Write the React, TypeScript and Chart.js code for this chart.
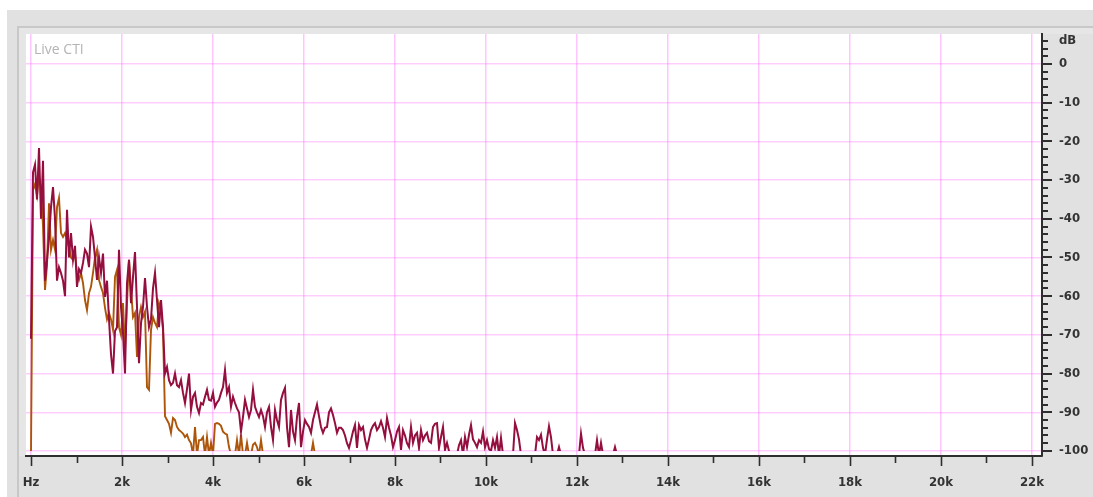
import React, { useEffect, useRef } from "react";
import { Chart, registerables } from "chart.js";

Chart.register(...registerables);

// Spectrum bin width (Hz between successive readings)
const BIN_HZ = 43.956;

// Crimson trace, dB per bin starting at 0 Hz
const CRIMSON_DB = [
  -71, -28, -26, -35, -21.7, -40, -25, -56, -50.6, -45,
  -37, -31.8, -40, -56, -52.5, -54, -56, -60, -37.7, -50,
  -43.7, -50.6, -47, -57.6, -53, -54, -51.4, -48, -49, -52.5,
  -42, -44.7, -50, -55.8, -50, -54, -49, -60.2, -56, -66,
  -75, -80, -69, -68, -48, -62.8, -69.5, -80, -56.6, -50.6,
  -61.8, -55, -48.6, -62.8, -77.3, -67, -62.8, -55.3, -62.8, -68,
  -66, -58, -54, -61, -68, -61, -68, -80, -78.3, -81.7,
  -83, -82.4, -80, -83, -83.5, -81.7, -85, -87.6, -84, -80,
  -89.4, -86, -85, -88.6, -90.2, -87.6, -88, -86, -84.2, -86.8,
  -87, -85, -88.6, -87.5, -86.8, -85, -83.5, -79.1, -85, -83.5,
  -88.6, -86, -87.6, -89, -90, -95, -91.2, -86.8, -89, -91.2,
  -89.4, -84.2, -88.6, -90, -91.2, -89.4, -91, -93.8, -90, -88.6,
  -93.8, -97.2, -89.4, -92, -93.8, -86.8, -85, -83.7, -93.8, -99,
  -89.4, -95, -97.2, -91.2, -87.6, -99, -95, -92, -93, -93.8,
  -95.3, -92, -90, -88, -91, -93.8, -95.3, -94, -93.8, -90,
  -89, -90.7, -92.8, -95.3, -94, -94, -94.6, -96, -98, -99.2,
  -97.2, -95, -93.3, -99.2, -93.3, -94.6, -93.8, -97, -99.2, -97,
  -94.6, -93.5, -92.8, -94.6, -93.8, -92.3, -94, -96.4, -91.5, -94,
  -96, -99, -97.2, -95, -93.8, -99.7, -94.6, -96, -98, -99,
  -93.8, -97.9, -96, -95.3, -99.2, -94.6, -97.2, -96, -95.3, -97.5,
  -97.9, -93.8, -93, -92.8, -99.2, -96.4, -93.8, -99.7, -97.9, -100,
  -101, -101, -101, -101, -98.5, -97.2, -101, -96.4, -99, -95.8,
  -93.3, -97, -97.9, -99, -97.2, -97.9, -95, -99, -97.2, -99.5,
  -100, -97.2, -99.2, -96.4, -101, -96.6, -101, -101, -101, -101,
  -101, -101, -92.8, -94.6, -97, -101, -101, -101, -101, -101,
  -101, -101, -101, -96.4, -97.2, -95.8, -99.2, -101, -97, -93.6,
  -96.4, -101, -101, -101, -99, -101, -101, -101, -101, -101,
  -101, -101, -101, -101, -101, -95.5, -99.2, -101, -101, -101,
  -101, -101, -101, -97.2, -101, -97.9, -101, -101, -101, -101,
  -101, -101, -99, -101,
];

// Orange trace, dB per bin starting at 0 Hz
const ORANGE_DB = [
  -100, -32.6, -31, -34, -29.2, -31.8, -42, -58.4, -52, -36,
  -48, -45.5, -48, -37, -34.6, -43.7, -44.7, -43.7, -45.5, -47.3,
  -50, -50.6, -49, -54, -55.8, -54, -56.6, -61, -63.6, -59.2,
  -57.6, -54, -50, -48, -55.8, -57.6, -59.2, -63, -66, -64.3,
  -66, -68.7, -55, -53.2, -68, -70, -61.8, -73.9, -61.8, -50.6,
  -58, -65.4, -64.3, -75.7, -65.4, -62.8, -65.4, -64, -83.5, -84.2,
  -68.7, -65.4, -66.9, -68, -61.8, -63.6, -68.7, -91, -92, -93,
  -95.3, -91.5, -92, -93.8, -94.6, -95, -95.5, -96.4, -95.8, -97.2,
  -98, -101, -93.8, -101, -97.2, -97.2, -96.4, -101, -96.4, -101,
  -97.9, -101, -93, -92.8, -93, -93.5, -95, -95.5, -95.8, -99,
  -101, -101, -101, -97.2, -101, -95.8, -101, -101, -97.9, -101,
  -101, -98.4, -97.9, -99, -101, -97.2, -101, -101, -101, -101,
  -101, -101, -101, -101, -101, -101, -101, -101, -101, -101,
  -101, -101, -101, -101, -101, -101, -101, -101, -101, -101,
  -101, -97.9, -101,
];

const X_TICKS_HZ = [
  0, 1000, 2000, 3000, 4000, 5000, 6000, 7000, 8000, 9000, 10000, 11000,
  12000, 13000, 14000, 15000, 16000, 17000, 18000, 19000, 20000, 21000, 22000,
];
const X_TICK_LABELS = [
  "Hz", "", "2k", "", "4k", "", "6k", "", "8k", "", "10k", "",
  "12k", "", "14k", "", "16k", "", "18k", "", "20k", "", "22k",
];
const Y_TICKS_DB = [
  -100, -98, -96, -94, -92, -90, -88, -86, -84, -82, -80, -78, -76, -74,
  -72, -70, -68, -66, -64, -62, -60, -58, -56, -54, -52, -50, -48, -46,
  -44, -42, -40, -38, -36, -34, -32, -30, -28, -26, -24, -22, -20, -18,
  -16, -14, -12, -10, -8, -6, -4, -2, 0, 2, 4, 6,
];
const Y_TICK_LABELS = Y_TICKS_DB.map((v) =>
  v === 6 ? "dB" : v % 10 === 0 ? String(v) : ""
);

const TITLE = "Live CTI";

const W = 1093;
const H = 497;
const PINK_V = "rgba(255, 110, 255, 0.4)";
const PINK_H = "rgba(255, 110, 255, 0.34)";
const AXIS = "#2e2e2e";
const LABEL_FONT = "'DejaVu Sans Condensed', 'DejaVu Sans', sans-serif";

export default function App() {
  const ref = useRef<HTMLCanvasElement | null>(null);

  useEffect(() => {
    document.body.style.margin = "0";
    document.body.style.overflow = "hidden";
    const canvas = ref.current;
    if (!canvas) return;

    const framePlugin = {
      id: "frame",
      beforeDraw(chart: any) {
        const { ctx, chartArea } = chart;
        ctx.save();
        ctx.fillStyle = "#ffffff";
        ctx.fillRect(0, 0, W, H);
        ctx.fillStyle = "#e1e1e1";
        ctx.fillRect(7, 10, W - 7, H - 10);
        ctx.fillStyle = "#c8c8c8";
        ctx.fillRect(17, 26, W - 17, 2);
        ctx.fillRect(17, 26, 2, H - 26);
        ctx.fillStyle = "#e6e6e6";
        ctx.fillRect(19, 28, W - 19, chartArea.top - 28);
        ctx.fillRect(19, 28, chartArea.left - 19, chartArea.bottom - 28);
        ctx.fillStyle = "#ffffff";
        ctx.fillRect(
          chartArea.left,
          chartArea.top,
          chartArea.right - chartArea.left,
          chartArea.bottom - chartArea.top
        );
        ctx.restore();
      },
      beforeDatasetsDraw(chart: any) {
        const { ctx, chartArea } = chart;
        ctx.save();
        ctx.fillStyle = "#b4b4b4";
        ctx.font = "14px 'Open Sans', sans-serif";
        ctx.textBaseline = "middle";
        ctx.fillText(TITLE, chartArea.left + 8, chartArea.top + 16);
        ctx.restore();
      },
      afterDraw(chart: any) {
        const { ctx, chartArea, scales } = chart;
        ctx.save();
        ctx.strokeStyle = AXIS;
        ctx.lineWidth = 1.6;
        for (const v of X_TICKS_HZ) {
          const px = Math.round(scales.x.getPixelForValue(v)) + 0.5;
          const len = v % 2000 === 0 ? 10 : 7;
          ctx.beginPath();
          ctx.moveTo(px, chartArea.bottom);
          ctx.lineTo(px, chartArea.bottom + len);
          ctx.stroke();
        }
        ctx.lineWidth = 2;
        for (const v of Y_TICKS_DB) {
          const py = Math.round(scales.y.getPixelForValue(v));
          const len = v % 10 === 0 ? 10 : 6;
          ctx.beginPath();
          ctx.moveTo(chartArea.right, py);
          ctx.lineTo(chartArea.right + len, py);
          ctx.stroke();
        }
        ctx.restore();
      },
    };

    const clip = { left: 0, top: 0, right: 0, bottom: -5 } as any;

    const chart = new Chart(canvas, {
      type: "line",
      data: {
        datasets: [
          {
            label: "crimson",
            data: CRIMSON_DB.map((y, i) => ({ x: i * BIN_HZ, y })),
            borderColor: "#940e3e",
            borderWidth: 2,
            pointRadius: 0,
            tension: 0,
            clip,
          },
          {
            label: "orange",
            data: ORANGE_DB.map((y, i) => ({ x: i * BIN_HZ, y })),
            borderColor: "#ad560a",
            borderWidth: 1.9,
            pointRadius: 0,
            tension: 0,
            clip,
          },
        ],
      },
      options: {
        animation: false,
        responsive: false,
        devicePixelRatio: 1,
        layout: { padding: { left: 26, top: 34, right: 0, bottom: 0 } },
        plugins: {
          legend: { display: false },
          tooltip: { enabled: false },
          title: { display: false },
        },
        scales: {
          x: {
            type: "linear",
            position: "bottom",
            min: -110,
            max: 22220,
            afterBuildTicks: (s: any) => {
              s.ticks = X_TICKS_HZ.map((v) => ({ value: v }));
            },
            afterFit: (s: any) => {
              s.height = 41;
            },
            ticks: {
              autoSkip: false,
              maxRotation: 0,
              padding: 9,
              color: "#333",
              font: { family: LABEL_FONT, size: 13, weight: "bold" },
              callback: (v: any) => {
                const i = X_TICKS_HZ.indexOf(Number(v));
                return i >= 0 ? X_TICK_LABELS[i] : "";
              },
            },
            grid: {
              color: (c: any) =>
                c.tick && c.tick.value % 2000 === 0 ? PINK_V : "transparent",
              lineWidth: 1.5,
              tickLength: 10,
              tickColor: "transparent",
            },
            border: { display: true, color: AXIS, width: 2 },
          },
          y: {
            type: "linear",
            position: "right",
            min: -101.3,
            max: 7.75,
            afterBuildTicks: (s: any) => {
              s.ticks = Y_TICKS_DB.map((v) => ({ value: v }));
            },
            afterFit: (s: any) => {
              s.width = 51;
            },
            ticks: {
              autoSkip: false,
              padding: 7,
              color: "#333",
              font: { family: LABEL_FONT, size: 13, weight: "bold" },
              callback: (v: any) => {
                const i = Y_TICKS_DB.indexOf(Number(v));
                return i >= 0 ? Y_TICK_LABELS[i] : "";
              },
            },
            grid: {
              color: (c: any) =>
                c.tick && c.tick.value % 10 === 0 ? PINK_H : "transparent",
              lineWidth: 1.5,
              tickLength: 10,
              tickColor: "transparent",
            },
            border: { display: true, color: AXIS, width: 2 },
          },
        },
      },
      plugins: [framePlugin],
    } as any);

    return () => chart.destroy();
  }, []);

  return (
    <canvas
      ref={ref}
      width={W}
      height={H}
      style={{ display: "block", width: W, height: H }}
    />
  );
}
